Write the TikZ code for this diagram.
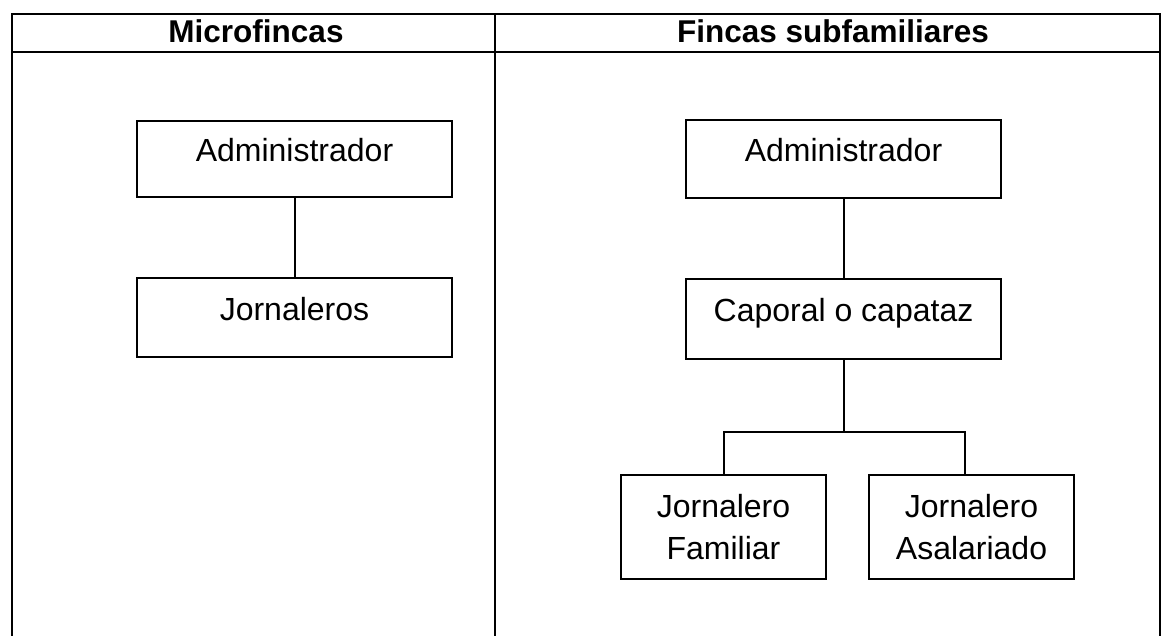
\documentclass[tikz,border=0pt]{standalone}
\usepackage{fontspec}
\setmainfont{Liberation Sans}
\begin{document}
\begin{tikzpicture}[x=1pt,y=-1pt,
  rule/.style={line width=2pt},
  orgbox/.style={draw, line width=2pt, inner sep=0pt, outer sep=0pt,
    font=\fontsize{32}{42}\selectfont, align=center},
  onebox/.style={orgbox, text height=23pt, text depth=18pt},
  twobox/.style={orgbox, minimum width=205pt, minimum height=104pt},
  hdr/.style={font=\fontsize{31.5}{36}\selectfont\bfseries, anchor=base, inner sep=0pt},
  link/.style={line width=2pt}]
\useasboundingbox (0,0) rectangle (1161,636);
% table
\draw[rule] (11.5,636) -- (11.5,14) -- (1159.5,14) -- (1159.5,636);
\draw[rule] (11.5,52) -- (1159.5,52);
\draw[rule] (495,14) -- (495,636);
\node[hdr] (h1) at (256,43) {Microfincas};
\node[hdr] (h2) at (833,43) {Fincas subfamiliares};
% left column
\node[onebox, minimum width=315pt, minimum height=76pt] (admL) at (294.5,159) {Administrador};
\node[onebox, minimum width=315pt, minimum height=79pt] (jorL) at (294.5,317.5) {Jornaleros};
\draw[link] (admL.south) -- (jorL.north);
% right column
\node[onebox, minimum width=315pt, minimum height=78pt] (admR) at (843.5,159) {Administrador};
\node[onebox, minimum width=315pt, minimum height=80pt] (cap) at (843.5,319) {Caporal o capataz};
\node[twobox] (fam) at (723.5,527) {Jornalero\\Familiar};
\node[twobox] (asa) at (971.5,527) {Jornalero\\Asalariado};
\coordinate (j) at (845,432);
\draw[link] (admR.south) -- (cap.north);
\draw[link] (cap.south) -- (cap.south |- j);
\draw[link] (fam.north) |- ([xshift=-6.5pt]asa.north |- j) -- ([xshift=-6.5pt]asa.north);
\end{tikzpicture}
\end{document}
